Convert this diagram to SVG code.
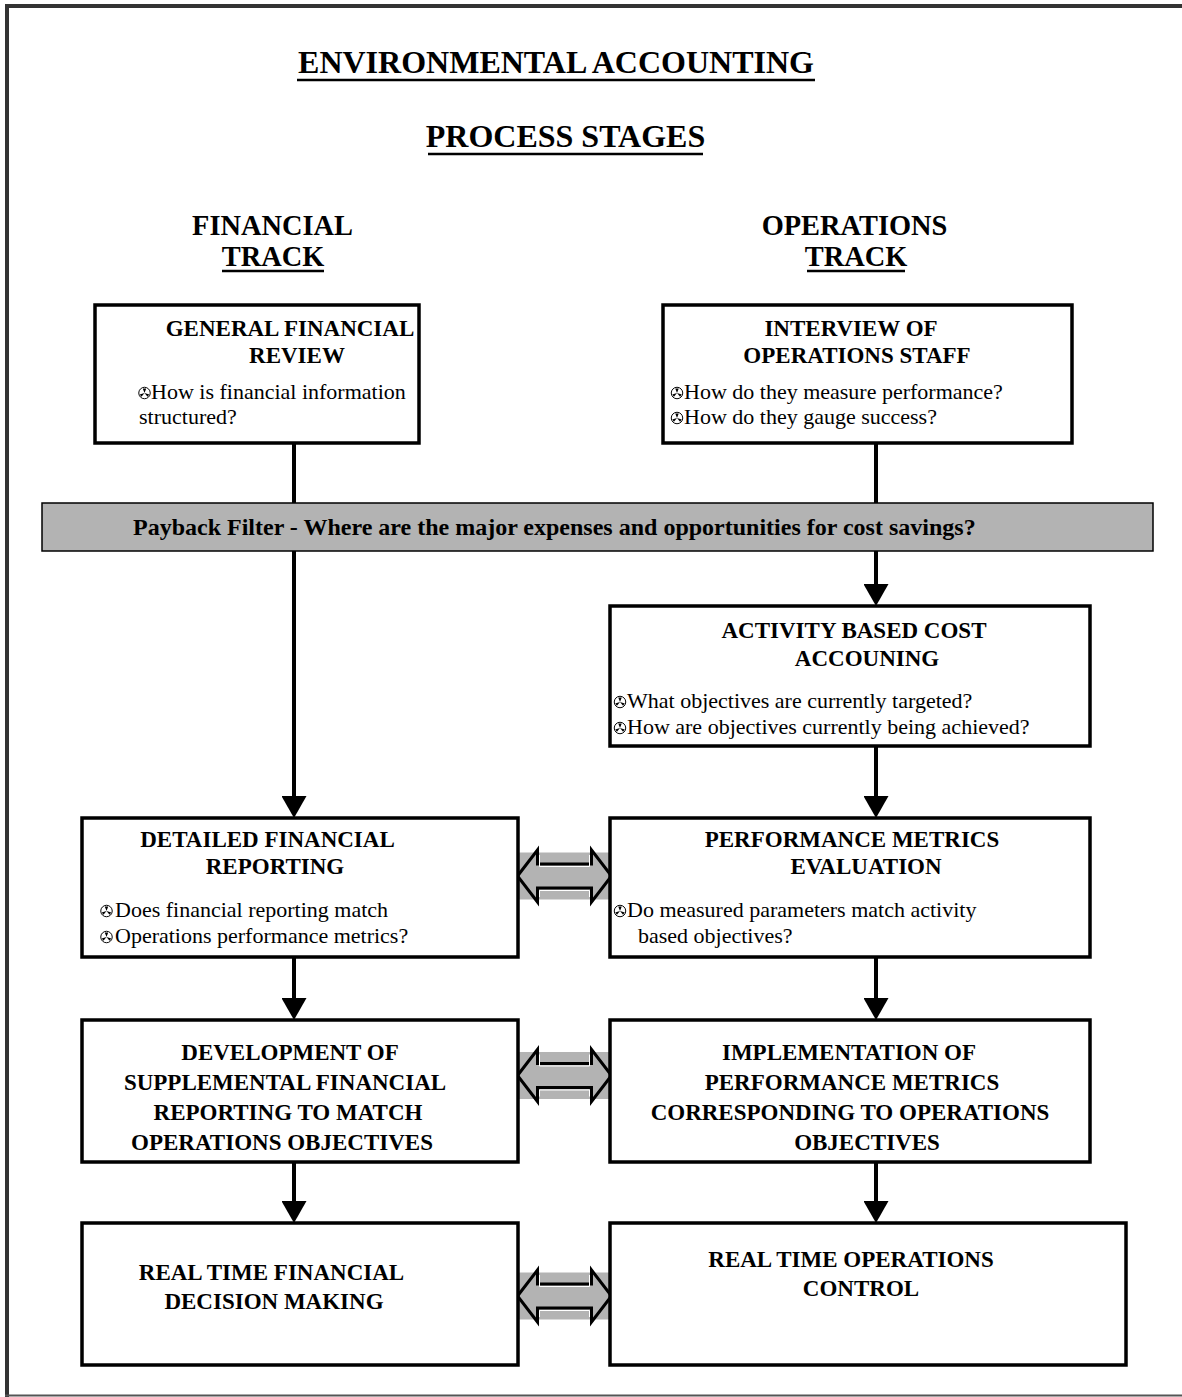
<svg xmlns="http://www.w3.org/2000/svg" width="1182" height="1397" viewBox="0 0 1182 1397">
  <style>
    .box { fill: #fff; stroke: #000; stroke-width: 3.5; }
    .h { font-family: "Liberation Serif", "Times New Roman", serif; font-weight: bold; font-size: 23px; text-anchor: middle; fill: #000; }
    .t { font-family: "Liberation Serif", "Times New Roman", serif; font-weight: bold; font-size: 32px; text-anchor: middle; fill: #000; }
    .tr { font-family: "Liberation Serif", "Times New Roman", serif; font-weight: bold; font-size: 28.4px; text-anchor: middle; fill: #000; }
    .b { font-family: "Liberation Serif", "Times New Roman", serif; font-size: 22px; fill: #000; }
    .ul { stroke: #000; stroke-width: 2.5; }
    .wire { stroke: #000; stroke-width: 4; fill: none; }
    .band { fill: #b3b3b3; }
    .dbl { fill: #b3b3b3; stroke: #000; stroke-width: 3; stroke-linejoin: miter; }
    .dblhi { fill: none; stroke: #fff; stroke-width: 1; }
  </style>
  <defs>
    <marker id="head" markerUnits="userSpaceOnUse" viewBox="0 0 22 25" markerWidth="22" markerHeight="25" refX="12" refY="12.5" orient="auto">
      <path d="M0,0 L22,12.5 L0,25 z" fill="#000"/>
    </marker>
    <!-- small fan bullet used in front of question lines -->
    <symbol id="bul" viewBox="-6 -6 12 12" overflow="visible">
      <circle r="5.3" fill="#fff" stroke="#000" stroke-width="0.9"/>
      <path d="M0,0 L-1.6,-4.2 L1.6,-4.2 z M0,0 L-2.8,3.5 L-4.4,1.3 z M0,0 L4.4,1.3 L2.8,3.5 z" fill="#000"/>
    </symbol>
    <!-- two-headed exchange arrow, centred on (0,0) -->
    <g id="exch">
      <rect class="band" x="-48" y="-23.5" width="95" height="47"/>
      <polygon class="dbl" points="-47,0 -27,-26 -27,-12 27,-12 27,-26 47,0 27,26 27,12 -27,12 -27,26"/>
      <polyline class="dblhi" points="-25,-21 -25,-9.5 25,-9.5 25,-21"/>
      <polyline class="dblhi" points="-25,21 -25,14.5 25,14.5 25,21"/>
    </g>
  </defs>

  <rect width="1182" height="1397" fill="#fff"/>

  <!-- page frame -->
  <g id="frame">
    <rect x="5" y="4" width="1177" height="4" fill="#333"/>
    <rect x="5" y="4" width="4" height="1393" fill="#333"/>
    <line x1="5" y1="1395.5" x2="1182" y2="1395.5" stroke="#555" stroke-width="2"/>
  </g>

  <!-- headings -->
  <g id="headings">
    <text class="t" x="556" y="73">ENVIRONMENTAL ACCOUNTING</text>
    <line class="ul" x1="297" y1="80" x2="815" y2="80"/>
    <text class="t" x="565.5" y="147">PROCESS STAGES</text>
    <line class="ul" x1="428" y1="154" x2="703" y2="154"/>
    <text class="tr" x="272.5" y="235">FINANCIAL</text>
    <text class="tr" x="273" y="266">TRACK</text>
    <line class="ul" x1="222" y1="271" x2="324" y2="271"/>
    <text class="tr" x="854.5" y="235">OPERATIONS</text>
    <text class="tr" x="856" y="266">TRACK</text>
    <line class="ul" x1="807" y1="271" x2="905" y2="271"/>
  </g>

  <!-- connectors -->
  <g id="connectors">
    <path class="wire" d="M294,443 V503"/>
    <path class="wire" d="M294,551 V808" marker-end="url(#head)"/>
    <path class="wire" d="M876,443 V503"/>
    <path class="wire" d="M876,551 V596" marker-end="url(#head)"/>
    <path class="wire" d="M876,746 V808" marker-end="url(#head)"/>
    <path class="wire" d="M294,957 V1010" marker-end="url(#head)"/>
    <path class="wire" d="M876,957 V1010" marker-end="url(#head)"/>
    <path class="wire" d="M294,1162 V1213" marker-end="url(#head)"/>
    <path class="wire" d="M876,1162 V1213" marker-end="url(#head)"/>
    <use href="#exch" x="564.5" y="876"/>
    <use href="#exch" x="564.5" y="1075.5"/>
    <use href="#exch" x="564.5" y="1296"/>
  </g>

  <!-- payback filter band -->
  <g id="payback-filter">
    <rect x="42" y="503" width="1111" height="48" fill="#b3b3b3" stroke="#000" stroke-width="1.5"/>
    <text class="h" x="133" y="535" style="text-anchor:start;font-size:24px">Payback Filter - Where are the major expenses and opportunities for cost savings?</text>
  </g>

  <g id="general-financial-review">
    <rect class="box" x="95" y="305" width="324" height="138"/>
    <text class="h" x="290" y="336">GENERAL FINANCIAL</text>
    <text class="h" x="297" y="363">REVIEW</text>
    <use href="#bul" x="138" y="386.5" width="13" height="13"/>
    <text class="b" x="151" y="399">How is financial information</text>
    <text class="b" x="139" y="424">structured?</text>
  </g>

  <g id="interview-operations-staff">
    <rect class="box" x="663" y="305" width="409" height="138"/>
    <text class="h" x="851" y="336">INTERVIEW OF</text>
    <text class="h" x="857" y="363">OPERATIONS STAFF</text>
    <use href="#bul" x="670.5" y="386.5" width="13" height="13"/>
    <text class="b" x="684" y="399">How do they measure performance?</text>
    <use href="#bul" x="670.5" y="411.5" width="13" height="13"/>
    <text class="b" x="684" y="424">How do they gauge success?</text>
  </g>

  <g id="activity-based-cost">
    <rect class="box" x="610" y="606" width="480" height="140"/>
    <text class="h" x="854" y="638">ACTIVITY BASED COST</text>
    <text class="h" x="867" y="666">ACCOUNING</text>
    <use href="#bul" x="613.5" y="695.5" width="13" height="13"/>
    <text class="b" x="627" y="708">What objectives are currently targeted?</text>
    <use href="#bul" x="613.5" y="721.5" width="13" height="13"/>
    <text class="b" x="627" y="734">How are objectives currently being achieved?</text>
  </g>

  <g id="detailed-financial-reporting">
    <rect class="box" x="82" y="818" width="436" height="139"/>
    <text class="h" x="267.5" y="847">DETAILED FINANCIAL</text>
    <text class="h" x="275" y="874">REPORTING</text>
    <use href="#bul" x="100" y="904.5" width="13" height="13"/>
    <text class="b" x="115" y="917">Does financial reporting match</text>
    <use href="#bul" x="100" y="930.5" width="13" height="13"/>
    <text class="b" x="115" y="943">Operations performance metrics?</text>
  </g>

  <g id="performance-metrics-evaluation">
    <rect class="box" x="610" y="818" width="480" height="139"/>
    <text class="h" x="852" y="847">PERFORMANCE METRICS</text>
    <text class="h" x="866" y="874">EVALUATION</text>
    <use href="#bul" x="613.5" y="904.5" width="13" height="13"/>
    <text class="b" x="627" y="917">Do measured parameters match activity</text>
    <text class="b" x="638" y="943">based objectives?</text>
  </g>

  <g id="supplemental-financial-reporting">
    <rect class="box" x="82" y="1020" width="436" height="142"/>
    <text class="h" x="290" y="1060">DEVELOPMENT OF</text>
    <text class="h" x="285" y="1090">SUPPLEMENTAL FINANCIAL</text>
    <text class="h" x="288" y="1120">REPORTING TO MATCH</text>
    <text class="h" x="282" y="1150">OPERATIONS OBJECTIVES</text>
  </g>

  <g id="implementation-performance-metrics">
    <rect class="box" x="610" y="1020" width="480" height="142"/>
    <text class="h" x="849" y="1060">IMPLEMENTATION OF</text>
    <text class="h" x="852" y="1090">PERFORMANCE METRICS</text>
    <text class="h" x="850" y="1120">CORRESPONDING TO OPERATIONS</text>
    <text class="h" x="867" y="1150">OBJECTIVES</text>
  </g>

  <g id="real-time-financial-decision">
    <rect class="box" x="82" y="1223" width="436" height="142"/>
    <text class="h" x="271.5" y="1280">REAL TIME FINANCIAL</text>
    <text class="h" x="274" y="1309">DECISION MAKING</text>
  </g>

  <g id="real-time-operations-control">
    <rect class="box" x="610" y="1223" width="516" height="142"/>
    <text class="h" x="851" y="1267">REAL TIME OPERATIONS</text>
    <text class="h" x="861" y="1296">CONTROL</text>
  </g>
</svg>
